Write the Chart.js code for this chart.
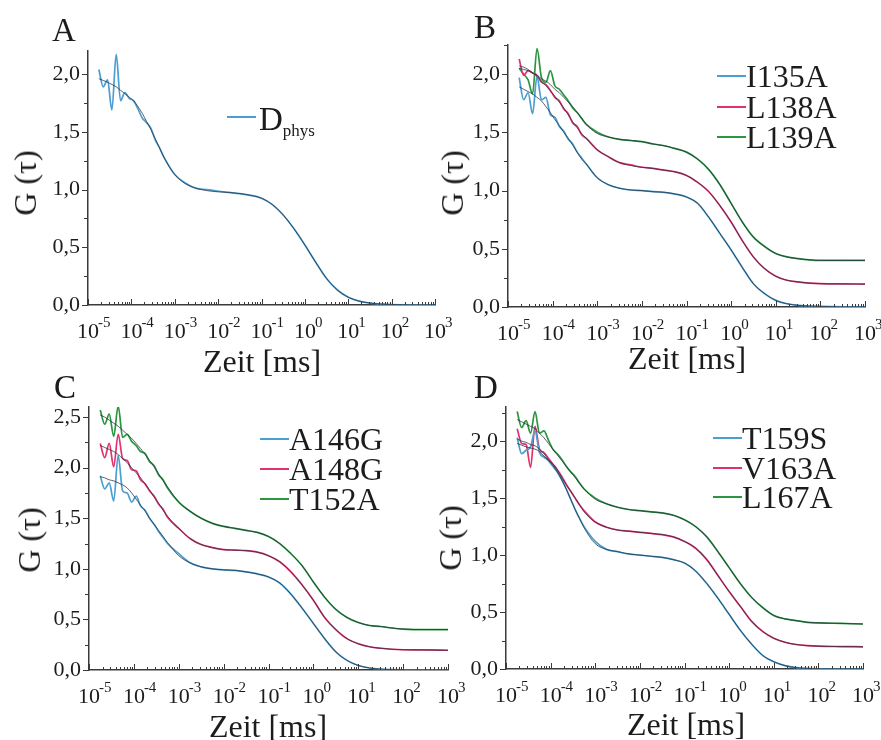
<!DOCTYPE html>
<html>
<head>
<meta charset="utf-8">
<script src="https://cdn.jsdelivr.net/npm/chart.js@4.4.1/dist/chart.umd.min.js"></script>
<style>
  body { margin: 0; width: 881px; height: 740px; background: #fff; position: relative; overflow: hidden;
         font-family: "Liberation Serif", "Times New Roman", serif; color: #1c1c1c; }
  canvas { position: absolute; }
  .txt { position: absolute; white-space: nowrap; line-height: 1; }
  .txt sub { font-size: 17px; vertical-align: -6px; }
  .key { position: absolute; height: 2px; width: 29px; }
</style>
</head>
<body>
<canvas id="chartA" width="470" height="370" style="left:0;top:0"></canvas>
<canvas id="chartB" width="461" height="370" style="left:420px;top:0"></canvas>
<canvas id="chartC" width="470" height="370" style="left:0;top:370px"></canvas>
<canvas id="chartD" width="461" height="370" style="left:420px;top:370px"></canvas>
<script>
// Korrelationszeit tau [ms], gemeinsam fuer alle Kurven
const tau = [1.78e-5, 2.24e-5, 2.82e-5, 3.55e-5, 4.47e-5, 5.62e-5, 7.08e-5, 8.91e-5,
  1.12e-4, 1.41e-4, 1.78e-4, 2.24e-4, 2.82e-4, 3.55e-4, 4.47e-4, 5.62e-4,
  1e-3, 1.78e-3, 3.16e-3, 5.62e-3, 0.01, 0.0178, 0.0316, 0.0562, 0.1, 0.178, 0.316, 0.562,
  1, 1.78, 3.16, 5.62, 10, 17.8, 31.6, 56.2, 100, 316, 1000];

// A - Dphys
const dataDphys = [2.04, 1.89, 1.95, 1.69, 2.17, 1.77, 1.84, 1.79, 1.77, 1.70, 1.62, 1.58, 1.53, 1.43, 1.36, 1.28,
  1.13, 1.055, 1.01, 1.00, 0.985, 0.975, 0.965, 0.95, 0.925, 0.87, 0.78, 0.66, 0.52, 0.37, 0.23, 0.13, 0.068, 0.034, 0.017, 0.008, 0.004, 0.001, 0.0];
const fitDphys = [1.96, 1.945, 1.93, 1.91, 1.89, 1.86, 1.83, 1.80, 1.77, 1.72, 1.66, 1.59, 1.52, 1.44, 1.36, 1.28,
  1.13, 1.05, 1.01, 0.99, 0.98, 0.975, 0.965, 0.95, 0.925, 0.87, 0.78, 0.66, 0.52, 0.37, 0.23, 0.13, 0.068, 0.034, 0.017, 0.008, 0.004, 0.001, 0.0];

// B
const dataI135A = [1.97, 1.78, 1.84, 1.66, 1.98, 1.78, 1.80, 1.65, 1.63, 1.55, 1.51, 1.44, 1.40, 1.33, 1.28, 1.23,
  1.11, 1.05, 1.02, 1.005, 1.00, 0.99, 0.985, 0.97, 0.945, 0.89, 0.77, 0.63, 0.49, 0.34, 0.20, 0.115, 0.057, 0.028, 0.014, 0.008, 0.005, 0.001, 0.0];
const fitI135A = [1.89, 1.87, 1.85, 1.83, 1.80, 1.77, 1.72, 1.67, 1.61, 1.56, 1.50, 1.45, 1.39, 1.33, 1.27, 1.23,
  1.11, 1.05, 1.02, 1.005, 1.00, 0.99, 0.985, 0.97, 0.945, 0.89, 0.77, 0.63, 0.49, 0.34, 0.20, 0.115, 0.057, 0.028, 0.014, 0.008, 0.005, 0.001, 0.0];
const dataL138A = [2.13, 1.99, 2.03, 2.01, 1.99, 1.93, 1.91, 1.86, 1.80, 1.77, 1.70, 1.66, 1.58, 1.55, 1.48, 1.45,
  1.35, 1.29, 1.24, 1.22, 1.20, 1.19, 1.175, 1.16, 1.13, 1.07, 0.99, 0.87, 0.73, 0.57, 0.43, 0.33, 0.265, 0.23, 0.215, 0.205, 0.20, 0.198, 0.197];
const fitL138A = [2.07, 2.06, 2.04, 2.01, 1.98, 1.94, 1.90, 1.855, 1.81, 1.76, 1.71, 1.65, 1.59, 1.54, 1.49, 1.45,
  1.35, 1.29, 1.24, 1.215, 1.20, 1.19, 1.175, 1.16, 1.13, 1.07, 0.99, 0.87, 0.73, 0.57, 0.43, 0.33, 0.265, 0.23, 0.215, 0.205, 0.20, 0.198, 0.197];
const dataL139A = [2.05, 2.00, 1.95, 1.83, 2.22, 1.97, 1.93, 2.03, 1.90, 1.87, 1.82, 1.77, 1.71, 1.67, 1.62, 1.57,
  1.50, 1.46, 1.44, 1.43, 1.42, 1.40, 1.385, 1.36, 1.33, 1.27, 1.18, 1.05, 0.89, 0.73, 0.60, 0.52, 0.46, 0.43, 0.415, 0.405, 0.40, 0.40, 0.40];
const fitL139A = [2.05, 2.04, 2.03, 2.01, 1.99, 1.96, 1.94, 1.91, 1.87, 1.84, 1.80, 1.76, 1.72, 1.67, 1.62, 1.57,
  1.49, 1.46, 1.44, 1.43, 1.42, 1.40, 1.385, 1.36, 1.33, 1.27, 1.18, 1.05, 0.89, 0.73, 0.60, 0.52, 0.46, 0.43, 0.415, 0.405, 0.40, 0.40, 0.40];

// C
const dataA146G = [1.92, 1.79, 1.85, 1.67, 2.12, 1.77, 1.75, 1.66, 1.72, 1.62, 1.58, 1.50, 1.44, 1.37, 1.31, 1.25,
  1.15, 1.06, 1.02, 1.00, 0.99, 0.985, 0.97, 0.95, 0.92, 0.86, 0.75, 0.61, 0.46, 0.31, 0.18, 0.095, 0.045, 0.02, 0.009, 0.004, 0.002, 0.0, 0.0];
const fitA146G = [1.91, 1.90, 1.88, 1.87, 1.85, 1.83, 1.80, 1.75, 1.69, 1.63, 1.57, 1.50, 1.44, 1.38, 1.32, 1.26,
  1.13, 1.06, 1.02, 1.00, 0.99, 0.985, 0.97, 0.95, 0.92, 0.86, 0.75, 0.61, 0.46, 0.31, 0.18, 0.095, 0.045, 0.02, 0.009, 0.004, 0.002, 0.0, 0.0];
const dataA148G = [2.24, 2.10, 2.24, 2.01, 2.33, 2.09, 2.07, 1.98, 1.97, 1.88, 1.84, 1.77, 1.72, 1.64, 1.59, 1.51,
  1.40, 1.30, 1.24, 1.21, 1.19, 1.185, 1.18, 1.165, 1.13, 1.07, 0.97, 0.84, 0.69, 0.52, 0.40, 0.31, 0.26, 0.23, 0.215, 0.205, 0.20, 0.198, 0.195];
const fitA148G = [2.22, 2.20, 2.18, 2.16, 2.13, 2.09, 2.05, 2.00, 1.95, 1.90, 1.84, 1.78, 1.71, 1.65, 1.58, 1.52,
  1.40, 1.30, 1.24, 1.21, 1.19, 1.185, 1.18, 1.165, 1.13, 1.07, 0.97, 0.84, 0.69, 0.52, 0.40, 0.31, 0.26, 0.23, 0.215, 0.205, 0.20, 0.198, 0.195];
const dataT152A = [2.57, 2.43, 2.53, 2.31, 2.61, 2.30, 2.33, 2.26, 2.22, 2.16, 2.14, 2.06, 2.02, 1.93, 1.88, 1.80,
  1.66, 1.57, 1.50, 1.45, 1.42, 1.40, 1.38, 1.36, 1.32, 1.25, 1.15, 1.03, 0.87, 0.72, 0.60, 0.52, 0.47, 0.44, 0.43, 0.415, 0.405, 0.40, 0.40];
const fitT152A = [2.52, 2.50, 2.47, 2.44, 2.41, 2.37, 2.33, 2.29, 2.24, 2.19, 2.13, 2.07, 2.01, 1.94, 1.87, 1.81,
  1.66, 1.57, 1.50, 1.45, 1.42, 1.40, 1.38, 1.36, 1.32, 1.25, 1.15, 1.03, 0.87, 0.72, 0.60, 0.52, 0.47, 0.44, 0.43, 0.415, 0.405, 0.40, 0.40];

// D
const dataT159S = [2.03, 1.89, 1.92, 1.95, 2.09, 1.90, 1.86, 1.83, 1.78, 1.73, 1.66, 1.58, 1.49, 1.40, 1.32, 1.25,
  1.12, 1.05, 1.03, 1.01, 1.00, 0.99, 0.98, 0.96, 0.93, 0.86, 0.75, 0.62, 0.48, 0.34, 0.22, 0.12, 0.064, 0.03, 0.012, 0.005, 0.002, 0.0, 0.0];
const fitT159S = [1.98, 1.965, 1.95, 1.94, 1.93, 1.91, 1.87, 1.83, 1.79, 1.73, 1.66, 1.58, 1.49, 1.40, 1.32, 1.24,
  1.10, 1.05, 1.03, 1.01, 1.00, 0.99, 0.98, 0.96, 0.93, 0.86, 0.75, 0.62, 0.48, 0.34, 0.22, 0.12, 0.064, 0.03, 0.012, 0.005, 0.002, 0.0, 0.0];
const dataV163A = [2.11, 1.98, 1.97, 1.77, 2.13, 1.93, 1.90, 1.85, 1.80, 1.75, 1.69, 1.62, 1.56, 1.50, 1.44, 1.39,
  1.29, 1.245, 1.22, 1.21, 1.20, 1.19, 1.18, 1.16, 1.12, 1.06, 0.96, 0.82, 0.68, 0.55, 0.42, 0.33, 0.27, 0.235, 0.215, 0.205, 0.20, 0.197, 0.195];
const fitV163A = [2.02, 2.00, 1.99, 1.97, 1.96, 1.93, 1.89, 1.84, 1.80, 1.75, 1.68, 1.62, 1.56, 1.50, 1.44, 1.38,
  1.29, 1.245, 1.22, 1.21, 1.20, 1.19, 1.18, 1.16, 1.12, 1.06, 0.96, 0.82, 0.68, 0.55, 0.42, 0.33, 0.27, 0.235, 0.215, 0.205, 0.20, 0.197, 0.195];
const dataL167A = [2.26, 2.12, 2.18, 2.07, 2.26, 2.07, 2.09, 2.01, 1.93, 1.89, 1.84, 1.78, 1.73, 1.69, 1.63, 1.58,
  1.50, 1.45, 1.42, 1.40, 1.39, 1.38, 1.37, 1.35, 1.31, 1.25, 1.16, 1.03, 0.89, 0.75, 0.63, 0.54, 0.47, 0.44, 0.425, 0.41, 0.405, 0.40, 0.395];
const fitL167A = [2.19, 2.17, 2.15, 2.13, 2.11, 2.07, 2.03, 1.98, 1.93, 1.88, 1.83, 1.78, 1.73, 1.68, 1.63, 1.58,
  1.49, 1.45, 1.42, 1.40, 1.39, 1.38, 1.37, 1.35, 1.31, 1.25, 1.16, 1.03, 0.89, 0.75, 0.63, 0.54, 0.47, 0.44, 0.425, 0.41, 0.405, 0.40, 0.395];

// Achsen
const xTickPowers = [-5, -4, -3, -2, -1, 0, 1, 2, 3];
const xMinorSteps = [1, 2, 3, 4, 5, 6, 7, 8, 9];
const yTicksAB = [0, 0.5, 1.0, 1.5, 2.0];
const yTicksC = [0, 0.5, 1.0, 1.5, 2.0, 2.5];
const yMinorStep = 0.25;

const blue = '#4a9ed0', pink = '#e2316f', green = '#2a963f';
const fitColor = 'rgba(38, 48, 66, 0.85)';
const axisColor = '#3a3a3a';
const textColor = '#1c1c1c';
const serif = '"Liberation Serif", "Times New Roman", serif';

// Teilstriche und Beschriftung der log. x-Achse (10 mit Exponent)
const axisMarks = {
  id: 'axisMarks',
  afterDraw(chart) {
    const {ctx, chartArea: a, scales: {x, y}} = chart;
    ctx.save();
    ctx.strokeStyle = axisColor;
    ctx.lineWidth = 1;
    ctx.beginPath();
    xTickPowers.forEach(p => {
      xMinorSteps.forEach(m => {
        const v = m * Math.pow(10, p);
        if (v > x.max * 1.0001) return;
        const px = Math.round(x.getPixelForValue(v)) + 0.5;
        ctx.moveTo(px, a.bottom);
        ctx.lineTo(px, a.bottom - (m === 1 ? 6 : 3));
      });
    });
    for (let v = 0; v <= y.max + 1e-9; v += yMinorStep) {
      const py = Math.round(y.getPixelForValue(v)) + 0.5;
      const major = Math.abs(v / 0.5 - Math.round(v / 0.5)) < 1e-6;
      ctx.moveTo(a.left, py);
      ctx.lineTo(a.left - (major ? 6 : 4), py);
    }
    ctx.stroke();

    ctx.fillStyle = textColor;
    ctx.textBaseline = 'alphabetic';
    xTickPowers.forEach(p => {
      const px = x.getPixelForValue(Math.pow(10, p));
      ctx.font = '22px ' + serif;
      ctx.textAlign = 'center';
      ctx.fillText('10', px, a.bottom + 33);
      ctx.font = '15px ' + serif;
      ctx.textAlign = 'left';
      ctx.fillText(String(p), px + 10, a.bottom + 22);
    });
    ctx.restore();
  }
};

function pts(ys) {
  return tau.map((t, i) => ({x: t, y: ys[i]}));
}

function makePanel(id, box, series, yMax, yTicks) {
  const datasets = [];
  series.forEach(s => {
    datasets.push({label: s.name + ' Fit', data: pts(s.fit), borderColor: fitColor, borderWidth: 0.9, order: 0});
    datasets.push({label: s.name, data: pts(s.data), borderColor: s.color, borderWidth: 1.7, order: 1});
  });
  return new Chart(document.getElementById(id), {
    type: 'line',
    data: {datasets},
    options: {
      responsive: false,
      animation: false,
      layout: {padding: {left: 0, top: box.top, right: box.right, bottom: 0}},
      elements: {point: {radius: 0}, line: {fill: false, cubicInterpolationMode: 'monotone'}},
      plugins: {legend: {display: false}, tooltip: {enabled: false}},
      scales: {
        x: {
          type: 'logarithmic', min: 1e-5, max: 1e3,
          ticks: {display: false},
          grid: {display: false},
          border: {color: axisColor, width: 1.5},
          afterFit: s => { s.height = box.bottom; }
        },
        y: {
          min: 0, max: yMax,
          afterBuildTicks: s => { s.ticks = yTicks.map(v => ({value: v})); },
          ticks: {
            font: {family: serif, size: 22}, color: textColor, padding: 8,
            callback: v => v.toFixed(1).replace('.', ',')
          },
          grid: {display: false, drawTicks: false},
          border: {color: axisColor, width: 1.5},
          afterFit: s => { s.width = box.left; }
        }
      }
    },
    plugins: [axisMarks]
  });
}

makePanel('chartA', {left: 88, top: 51, right: 35, bottom: 65},
  [{name: 'Dphys', data: dataDphys, fit: fitDphys, color: blue}], 2.2, yTicksAB);
makePanel('chartB', {left: 88, top: 45, right: 16, bottom: 63},
  [{name: 'I135A', data: dataI135A, fit: fitI135A, color: blue},
   {name: 'L138A', data: dataL138A, fit: fitL138A, color: pink},
   {name: 'L139A', data: dataL139A, fit: fitL139A, color: green}], 2.25, yTicksAB);
makePanel('chartC', {left: 89, top: 37, right: 22, bottom: 70},
  [{name: 'A146G', data: dataA146G, fit: fitA146G, color: blue},
   {name: 'A148G', data: dataA148G, fit: fitA148G, color: pink},
   {name: 'T152A', data: dataT152A, fit: fitT152A, color: green}], 2.6, yTicksC);
makePanel('chartD', {left: 86, top: 37, right: 18, bottom: 71},
  [{name: 'T159S', data: dataT159S, fit: fitT159S, color: blue},
   {name: 'V163A', data: dataV163A, fit: fitV163A, color: pink},
   {name: 'L167A', data: dataL167A, fit: fitL167A, color: green}], 2.3, yTicksAB);

// Texte als HTML
function addText(html, x, base, size, center) {
  const d = document.createElement('div');
  d.className = 'txt';
  d.innerHTML = html;
  d.style.fontSize = size + 'px';
  d.style.left = x + 'px';
  d.style.top = (base - 0.84 * size) + 'px';
  if (center) d.style.transform = 'translateX(-50%)';
  document.body.appendChild(d);
}
function addVText(text, cx, cy, size) {
  const d = document.createElement('div');
  d.className = 'txt';
  d.textContent = text;
  d.style.fontSize = size + 'px';
  d.style.left = cx + 'px';
  d.style.top = cy + 'px';
  d.style.transform = 'translate(-50%,-50%) rotate(-90deg)';
  document.body.appendChild(d);
}
function addKey(color, x, y) {
  const d = document.createElement('div');
  d.className = 'key';
  d.style.background = color;
  d.style.left = x + 'px';
  d.style.top = (y - 1) + 'px';
  document.body.appendChild(d);
}

addText('A', 52, 42, 33); addText('B', 474, 39, 33);
addText('C', 54, 399, 33); addText('D', 474, 399, 33);

addText('Zeit [ms]', 262, 372, 32, true); addText('Zeit [ms]', 687, 369, 32, true);
addText('Zeit [ms]', 268, 737, 32, true); addText('Zeit [ms]', 686, 735, 32, true);

addVText('G (τ)', 25, 183, 32); addVText('G (τ)', 452, 183, 32);
addVText('G (τ)', 29, 540, 32); addVText('G (τ)', 450, 538, 32);

addKey(blue, 227, 117); addText('D<sub>phys</sub>', 259, 131, 33);

const legendB = [['I135A', blue], ['L138A', pink], ['L139A', green]];
const legendC = [['A146G', blue], ['A148G', pink], ['T152A', green]];
const legendD = [['T159S', blue], ['V163A', pink], ['L167A', green]];
[[legendB, 717, [87, 118, 148]], [legendC, 260, [450, 480, 510]], [legendD, 713, [449, 479, 508]]]
  .forEach(([items, x0, bases]) => {
    items.forEach(([name, color], i) => {
      addKey(color, x0, bases[i] - 11);
      addText(name, x0 + 29, bases[i], 32);
    });
  });
</script>
</body>
</html>
